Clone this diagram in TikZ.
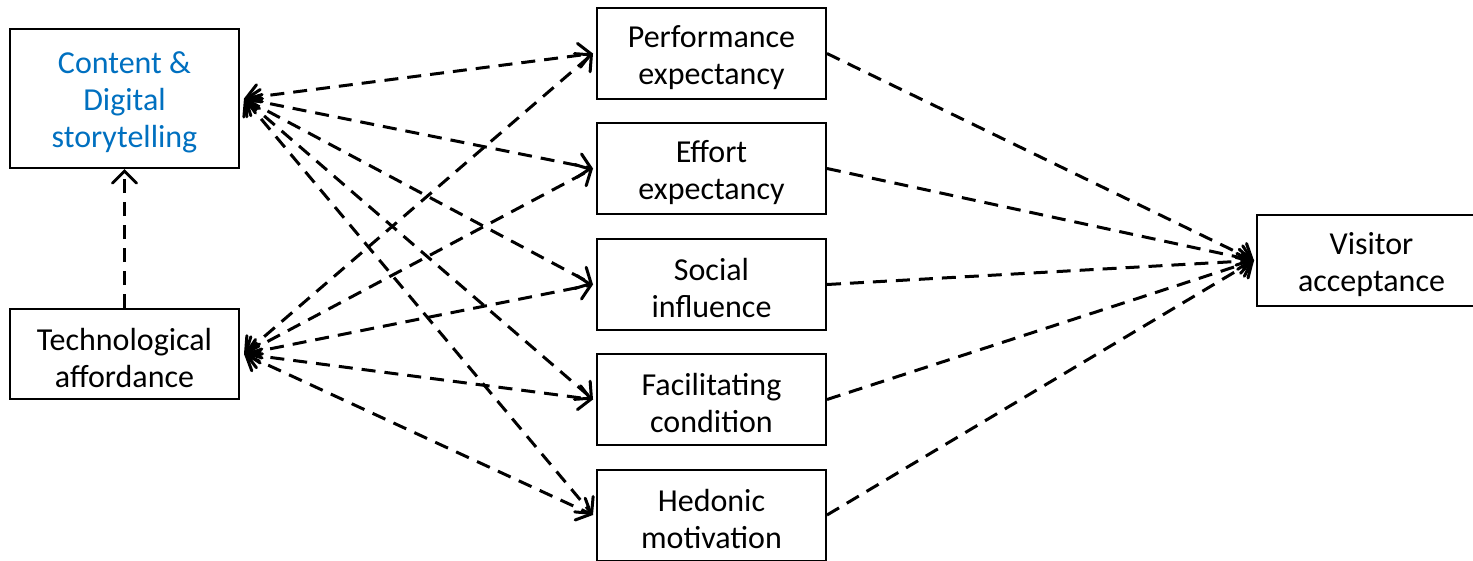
\documentclass[tikz,border=0pt]{standalone}
\usepackage{fontspec}
\setmainfont{Carlito}
\usetikzlibrary{arrows.meta}
\definecolor{ppblue}{HTML}{0070C0}
\newcommand\lowr{\rule{0pt}{30pt}}
\begin{document}
\begin{tikzpicture}[x=1pt,y=-1pt,
  box/.style={draw=black,line width=2pt,minimum width=229pt,align=center,inner sep=0pt,
    font=\fontsize{32}{37}\selectfont},
  tip/.style={Straight Barb[length=12pt,width=24pt,line cap=round]},
  link/.style={line width=3pt,dash pattern=on 14pt off 9pt,line cap=butt,-{Straight Barb[length=12pt,width=24pt,line cap=round]}},
  both/.style={line width=3pt,dash pattern=on 14pt off 9pt,line cap=butt,
    {Straight Barb[length=12pt,width=24pt,line cap=round]}-{Straight Barb[length=12pt,width=24pt,line cap=round]}}]
\useasboundingbox (0,0) rectangle (1473,560);
\fill[white] (0,0) rectangle (1473,560);
\node[box,minimum height=139pt,text=ppblue] (content) at (124.5,98.5) {\lowr Content \&\\Digital\\storytelling};
\node[box,minimum height=90pt] (tech) at (124.5,354) {\lowr Technological\\affordance};
\node[box,minimum height=91pt] (perf) at (711.5,53.5) {\lowr Performance\\expectancy};
\node[box,minimum height=91pt] (effort) at (711.5,168.5) {\lowr Effort\\expectancy};
\node[box,minimum height=91pt] (social) at (711.5,284.5) {\lowr Social\\influence};
\node[box,minimum height=91pt] (facil) at (711.5,399.5) {\lowr Facilitating\\condition};
\node[box,minimum height=91pt] (hedon) at (711.5,515) {\lowr Hedonic\\motivation};
\node[box,minimum height=91pt] (visit) at (1371.5,260.5) {\lowr Visitor\\acceptance};
\coordinate (cR) at ([xshift=4pt]content.east);
\coordinate (tR) at ([xshift=4pt]tech.east);
\coordinate (vL) at ([xshift=-2pt]visit.west);
\draw[link] (tech.north) -- (content.south);
\foreach \m in {perf,effort,social,facil,hedon}{
  \draw[both] (cR) -- ([xshift=-3pt]\m.west);
  \draw[both] (tR) -- ([xshift=-3pt]\m.west);
  \draw[link] (\m.east) -- (vL);
}
\end{tikzpicture}
\end{document}
